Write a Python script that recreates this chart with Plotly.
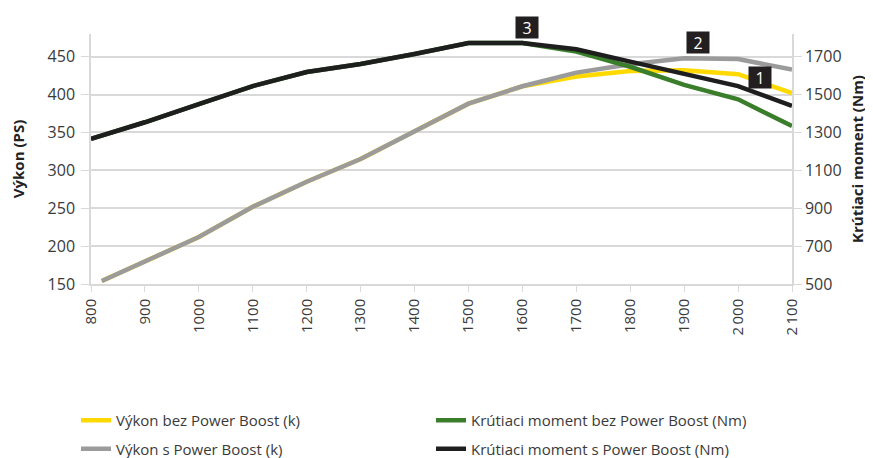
import plotly.graph_objects as go

# ---- data ----
rpm_power = [820, 900, 1000, 1100, 1200, 1300, 1400, 1500, 1600, 1700, 1800, 1900, 2000, 2100]
power_no_boost = [154, 180, 212, 252, 285, 315, 351, 388, 411, 424, 431, 432, 427, 402]
power_boost = [154, 180, 212, 252, 285, 315, 351, 388, 411, 429, 440, 448, 447, 433]

rpm_torque = [800, 900, 1000, 1100, 1200, 1300, 1400, 1500, 1600, 1700, 1800, 1900, 2000, 2100]
torque_no_boost = [1266, 1354, 1450, 1545, 1619, 1662, 1714, 1772, 1772, 1727, 1647, 1551, 1475, 1334]
torque_boost = [1266, 1354, 1450, 1545, 1619, 1662, 1714, 1772, 1772, 1739, 1674, 1612, 1545, 1441]

x_ticks = [800, 900, 1000, 1100, 1200, 1300, 1400, 1500, 1600, 1700, 1800, 1900, 2000, 2100]
x_tick_text = ["800", "900", "1000", "1100", "1200", "1300", "1400", "1500", "1600",
               "1700", "1800", "1900", "2\u2009000", "2\u2009100"]
y_left_ticks = [150, 200, 250, 300, 350, 400, 450]
y_right_ticks = [500, 700, 900, 1100, 1300, 1500, 1700]

markers_text = ["3", "2", "1"]
markers_x = [1609, 1926, 2041]
markers_y = [488, 469, 422]   # in left-axis units

names = ["Výkon bez Power Boost (k)", "Výkon s Power Boost (k)",
         "Krútiaci moment bez Power Boost (Nm)", "Krútiaci moment s Power Boost (Nm)"]

FONT = "Open Sans"
TXT = "#3a3a3a"
GRID = "#d9d9d9"
Y_RANGE = [150, 480]

fig = go.Figure()
fig.add_trace(go.Scatter(x=rpm_power, y=power_no_boost, name=names[0], mode="lines",
                         line=dict(color="#ffd900", width=4.5), legend="legend", legendgroup="a"))
fig.add_trace(go.Scatter(x=rpm_power, y=power_boost, name=names[1], mode="lines",
                         line=dict(color="#9b9b9b", width=4.5), legend="legend", legendgroup="b"))
fig.add_trace(go.Scatter(x=rpm_torque, y=torque_no_boost, name=names[2], mode="lines", yaxis="y2",
                         line=dict(color="#3a7d2a", width=4.5), legend="legend2", legendgroup="c"))
fig.add_trace(go.Scatter(x=rpm_torque, y=torque_boost, name=names[3], mode="lines", yaxis="y2",
                         line=dict(color="#1e1e1e", width=4.5), legend="legend2", legendgroup="d"))

for t, x, y in zip(markers_text, markers_x, markers_y):
    fig.add_annotation(x=x, y=(y - Y_RANGE[0]) / (Y_RANGE[1] - Y_RANGE[0]), xref="x", yref="paper",
                       xanchor="center", yanchor="middle",
                       text=t, showarrow=False,
                       bgcolor="#231f20", font=dict(color="white", size=16, family=FONT),
                       width=22, height=21, borderpad=0)

legend_common = dict(orientation="v", xanchor="left", yanchor="top", bgcolor="rgba(0,0,0,0)",
                     font=dict(family=FONT, size=15, color=TXT), tracegroupgap=6,
                     borderwidth=0)

fig.update_layout(
    width=865, height=450,
    margin=dict(l=83, r=81, t=26, b=174, autoexpand=False),
    paper_bgcolor="white", plot_bgcolor="white",
    font=dict(family=FONT, color=TXT),
    xaxis=dict(range=[800, 2100], tickvals=x_ticks, ticktext=x_tick_text, tickangle=-90,
               showgrid=False, showline=True, linecolor=GRID, linewidth=1.5, automargin=False,
               ticks="outside", ticklen=6, tickcolor=GRID, zeroline=False, ticklabelstandoff=1,
               tickfont=dict(size=15, family=FONT, color=TXT)),
    yaxis=dict(range=Y_RANGE, tickvals=y_left_ticks, showgrid=True, gridcolor=GRID, gridwidth=1.5,
               showline=True, linecolor=GRID, linewidth=1.5, ticks="outside", ticklen=8,
               tickcolor=GRID, zeroline=False, automargin=False, ticklabelstandoff=3,
               tickfont=dict(size=16, family=FONT, color=TXT),
               title=dict(text="<b>Výkon (PS)</b>", font=dict(size=15, family=FONT, color="#222"),
                          standoff=22)),
    yaxis2=dict(range=[500, 1820], tickvals=y_right_ticks, overlaying="y", side="right",
                showgrid=False, showline=True, linecolor=GRID, linewidth=1.5, ticks="outside",
                ticklen=8, tickcolor=GRID, zeroline=False, automargin=False,
                tickfont=dict(size=16, family=FONT, color=TXT),
                title=dict(text="<b>Krútiaci moment (Nm)</b>", font=dict(size=15, family=FONT, color="#222"),
                           standoff=12)),
    legend=dict(x=-0.0214, y=-0.48, **legend_common),
    legend2=dict(x=0.485, y=-0.48, **legend_common),
    showlegend=True,
)

fig.write_html("out.html")
